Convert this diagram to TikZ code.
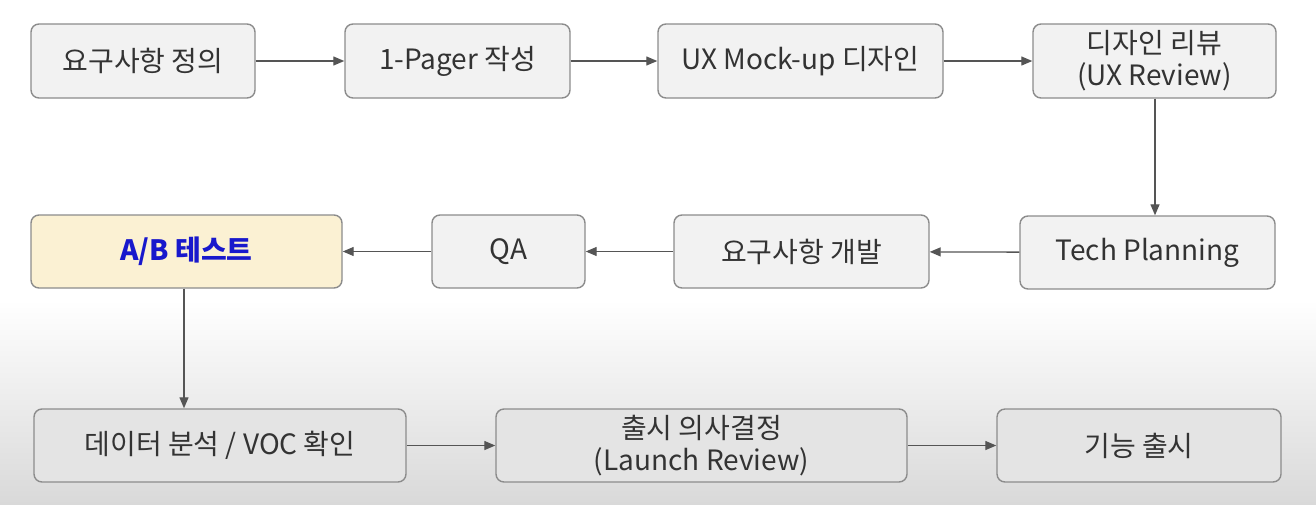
\documentclass[tikz,border=0pt]{standalone}
\usepackage{fontspec}
\setmainfont{Noto Sans CJK KR}
\usetikzlibrary{arrows.meta}
\definecolor{boxfill}{HTML}{F2F2F2}
\definecolor{boxfilllow}{HTML}{E4E4E4}
\definecolor{boxline}{HTML}{8C8C8C}
\definecolor{txt}{HTML}{333333}
\definecolor{abfill}{HTML}{FBF1D3}
\definecolor{abtext}{HTML}{1818CC}
\definecolor{arr}{HTML}{555555}
\definecolor{bgbot}{HTML}{D9D9D9}
\tikzset{
  stepbox/.style={draw=boxline, line width=1.4pt, rounded corners=8pt, fill=boxfill,
    text=txt, font=\fontsize{28}{32}\selectfont, align=center, inner sep=0pt},
  lowbox/.style={stepbox, fill=boxfilllow},
  conn/.style={draw=arr, line width=1.3pt, -{Triangle[length=11pt,width=9pt]}}
}
\newcommand{\boxat}[7]{% name, x1, y1, x2, y2, style, text
  \node[#6, minimum width={#4-#2}, minimum height={#5-#3}] (#1) at ({(#2+#4)/2},{(#3+#5)/2}) {#7};}
\begin{document}
\begin{tikzpicture}[x=1pt,y=-1pt]
\useasboundingbox (0,0) rectangle (1316,504);
\fill[white] (0,0) rectangle (1316,300);
\shade[top color=white, bottom color=bgbot] (0,299.5) rectangle (1316,504);
% row 1
\boxat{a1}{31}{24}{255}{98}{stepbox}{요구사항 정의}
\boxat{a2}{345}{24}{570}{98}{stepbox}{1-Pager 작성}
\boxat{a3}{658}{24}{943}{98}{stepbox}{UX Mock-up 디자인}
\boxat{a4}{1033}{24}{1276}{98}{stepbox}{디자인 리뷰\\(UX Review)}
% row 2
\boxat{b4}{1020}{216}{1275}{289}{stepbox}{Tech Planning}
\boxat{b3}{674}{215}{929}{288}{stepbox}{요구사항 개발}
\boxat{b2}{432}{215}{585}{288}{stepbox}{QA}
\boxat{b1}{31}{215}{342}{288}{stepbox, fill=abfill, text=abtext, font=\fontsize{28}{32}\selectfont\bfseries}{A/B 테스트}
% row 3
\boxat{c1}{34}{409}{406}{482}{lowbox}{데이터 분석 / VOC 확인}
\boxat{c2}{496}{409}{907}{482}{lowbox}{출시 의사결정\\(Launch Review)}
\boxat{c3}{997}{409}{1281}{482}{lowbox}{기능 출시}
% connectors
\draw[conn] (a1) -- (a2);
\draw[conn] (a2) -- (a3);
\draw[conn] (a3) -- (a4);
\draw[conn] (a4.south -| 1155,0) -- (b4.north -| 1155,0);
\draw[conn] (b4) -- (b3);
\draw[conn] (b3) -- (b2);
\draw[conn] (b2) -- (b1);
\draw[conn] (b1.south -| 184,0) -- (c1.north -| 184,0);
\draw[conn] (c1) -- (c2);
\draw[conn] (c2) -- (c3);
\end{tikzpicture}
\end{document}
